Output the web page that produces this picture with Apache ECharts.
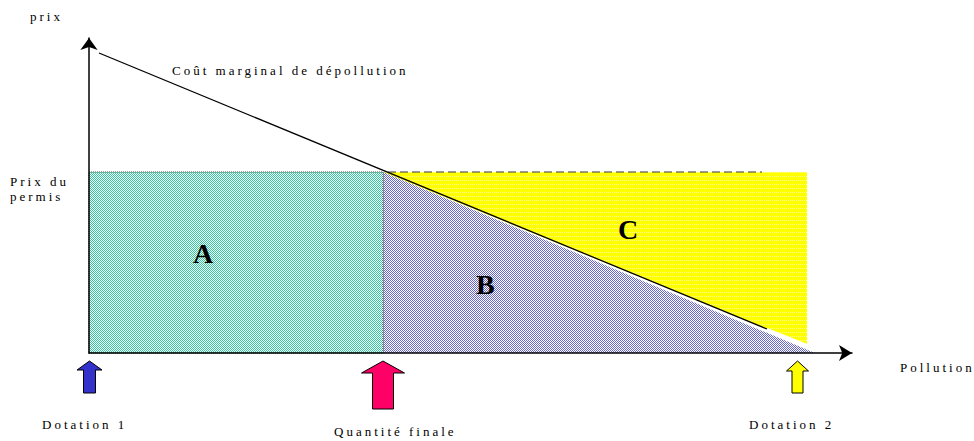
<!DOCTYPE html>
<html>
<head>
<meta charset="utf-8">
<script src="https://cdn.jsdelivr.net/npm/echarts@6/dist/echarts.min.js"></script>
<style>
  html, body { margin: 0; padding: 0; background: #fff; }
  #chart { width: 974px; height: 441px; }
  #chart text { letter-spacing: 3px; }
</style>
</head>
<body>
<div id="chart"></div>
<script>
const prixPermis = 18.1
const quantiteFinale = 29.4
const coutX = [1.0, 67.8]
const coutY = [30.0, 2.4]
const coutFinX = [67.8, 71.8]
const coutFinY = [2.4, 0.8]
const permisX = [29.9, 67.3]

const regionNames = ['A', 'B', 'C']
const regionXs = [
  [0, quantiteFinale, quantiteFinale, 0],
  [quantiteFinale, 72.6, quantiteFinale],
  [quantiteFinale, 71.8, 71.8]
]
const regionYs = [
  [0, 0, prixPermis, prixPermis],
  [prixPermis, 0, 0],
  [prixPermis, prixPermis, 0.8]
]

const arrowNames = ['Dotation 1', 'Quantité finale', 'Dotation 2']
const arrowX = [0, 29.35, 70.8]

function hatch(fg, bg, test) {
  const c = document.createElement('canvas')
  c.width = 4
  c.height = 4
  const ctx = c.getContext('2d')
  ctx.fillStyle = bg
  ctx.fillRect(0, 0, 4, 4)
  ctx.fillStyle = fg
  for (let x = 0; x < 4; x++) {
    for (let y = 0; y < 4; y++) {
      if (test(x, y)) ctx.fillRect(x, y, 1, 1)
    }
  }
  return { image: c, repeat: 'repeat', imageWidth: 4, imageHeight: 4 }
}

// motif fin en damier
const damier = (x, y) => (x + y) % 2 === 0
const regionFills = [
  hatch('#2ecc9a', '#ffffff', damier),
  hatch('#6666cc', '#ffffff', damier),
  hatch('#ffffa0', '#ffff00', (x, y) => x % 2 === 0 && y % 4 === 0)
]
const regionStroke = ['#444', 'none', 'none']

// formes des flèches (px)
const arrowShapes = [
  { hw: 25, hh: 9, sw: 12, h: 32, color: '#3333cc' },
  { hw: 43, hh: 12, sw: 21, h: 48, color: '#ff0066' },
  { hw: 22, hh: 10, sw: 11, h: 32, color: '#ffff00' }
]

const serif = "'Liberation Serif', 'Times New Roman', serif"

function txt(text, x, y, size, weight) {
  return {
    type: 'text',
    left: x,
    top: y,
    z: 100,
    style: {
      text: text,
      x: 0,
      y: 0,
      fill: '#000',
      font: (weight || 'normal') + ' ' + size + 'px ' + serif
    }
  }
}

const chart = echarts.init(document.getElementById('chart'), null, { renderer: 'svg' })

const option = {
  animation: false,
  grid: { left: 89, right: 122, top: 38, bottom: 88 },
  xAxis: {
    type: 'value',
    min: 0,
    max: 76.3,
    z: 10,
    axisLine: {
      show: true,
      symbol: ['none', 'arrow'],
      symbolSize: [12, 13],
      lineStyle: { color: '#000', width: 1.5 }
    },
    axisTick: { show: false },
    axisLabel: { show: false },
    splitLine: { show: false }
  },
  yAxis: {
    type: 'value',
    min: 0,
    max: 31.5,
    z: 10,
    axisLine: {
      show: true,
      symbol: ['none', 'arrow'],
      symbolSize: [13, 12],
      lineStyle: { color: '#000', width: 1.5 }
    },
    axisTick: { show: false },
    axisLabel: { show: false },
    splitLine: { show: false }
  },
  series: [
    {
      type: 'custom',
      silent: true,
      data: [[2], [1], [0]],
      renderItem: function (params, api) {
        const i = api.value(0)
        const pts = regionXs[i].map((x, k) => api.coord([x, regionYs[i][k]]))
        return {
          type: 'polygon',
          shape: { points: pts },
          style: {
            fill: regionFills[i],
            stroke: regionStroke[i],
            lineWidth: 1,
            lineDash: [1, 1]
          }
        }
      }
    },
    {
      type: 'line',
      silent: true,
      symbol: 'none',
      z: 5,
      lineStyle: { color: '#333', width: 1, type: [8, 4] },
      data: permisX.map(x => [x, prixPermis])
    },
    {
      type: 'line',
      silent: true,
      symbol: 'none',
      z: 5,
      lineStyle: { color: '#ffffff', width: 2 },
      data: coutFinX.map((x, k) => [x, coutFinY[k]])
    },
    {
      type: 'line',
      silent: true,
      symbol: 'none',
      z: 6,
      lineStyle: { color: '#000', width: 1.3 },
      data: coutX.map((x, k) => [x, coutY[k]])
    },
    {
      type: 'custom',
      silent: true,
      z: 12,
      clip: false,
      data: arrowX.map((x, i) => [x, 0, i]),
      renderItem: function (params, api) {
        const p = api.coord([api.value(0), 0])
        const s = arrowShapes[api.value(2)]
        const cx = p[0] + 0.5
        const ty = p[1] + 8
        return {
          type: 'polygon',
          shape: {
            points: [
              [cx, ty],
              [cx + s.hw / 2, ty + s.hh],
              [cx + s.sw / 2, ty + s.hh],
              [cx + s.sw / 2, ty + s.h],
              [cx - s.sw / 2, ty + s.h],
              [cx - s.sw / 2, ty + s.hh],
              [cx - s.hw / 2, ty + s.hh]
            ]
          },
          style: { fill: s.color, stroke: '#000', lineWidth: 1 }
        }
      }
    }
  ],
  graphic: [
    txt('prix', 30, 10, 13),
    txt('Prix du', 10, 175, 13),
    txt('permis', 10, 190, 13),
    txt('Coût marginal de dépollution', 172, 64, 13),
    txt('Pollution', 900, 361, 13),
    txt(arrowNames[0], 42, 418, 13),
    txt(arrowNames[1], 334, 425, 13),
    txt(arrowNames[2], 749, 418, 13),
    txt(regionNames[0], 193, 239, 28, 'bold'),
    txt(regionNames[1], 476, 270, 28, 'bold'),
    txt(regionNames[2], 618, 215, 28, 'bold')
  ]
}

chart.setOption(option)
</script>
</body>
</html>
